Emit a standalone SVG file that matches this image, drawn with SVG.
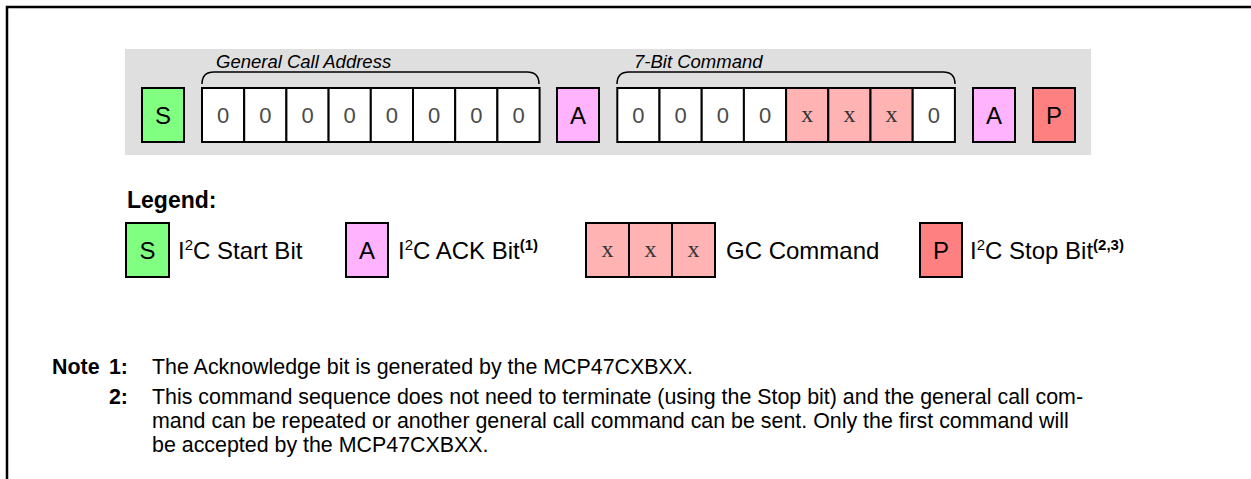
<svg xmlns="http://www.w3.org/2000/svg" width="1251" height="479" viewBox="0 0 1251 479">
<style>
.box{stroke:#000;stroke-width:2}
.s{fill:#80FF80}.a{fill:#FFB3FF}.p{fill:#FF8080}.x{fill:#FFB3B3}.w{fill:#fff}
.lt{font-family:"Liberation Sans",Arial,sans-serif;font-size:24px;fill:#000}
.lg{font-family:"Liberation Sans",Arial,sans-serif;font-size:23px;font-weight:bold;fill:#000}
.bt{font-family:"Liberation Sans",Arial,sans-serif;font-size:24px;fill:#000;text-anchor:middle}
.z{font-family:"Liberation Sans",Arial,sans-serif;font-size:22px;fill:#4a4a4a;text-anchor:middle}
.xx{font-family:"Liberation Serif","Times New Roman",serif;font-size:24px;fill:#333;text-anchor:middle}
.it{font-family:"Liberation Sans",Arial,sans-serif;font-size:18.5px;font-style:italic;fill:#000}
.nt{font-family:"Liberation Sans",Arial,sans-serif;font-size:21.4px;fill:#000}
.nb{font-weight:bold}
.sup{font-size:15px}
.brace{fill:none;stroke:#000;stroke-width:1.5}
</style>
<g id="frame">
<path d="M7 479 V7 H1251" fill="none" stroke="#000" stroke-width="2.5"/>
<rect x="125" y="49" width="966" height="106" fill="#DFDFDF"/>
</g>
<g id="connectors">
<path class="brace" d="M202 84 Q202 72 214 72 H527 Q539 72 539 84"/>
<path class="brace" d="M617 84 Q617 72 629 72 H943 Q955 72 955 84"/>
</g>
<g id="labels">
<text class="it" x="216" y="68">General Call Address</text>
<text class="it" x="634" y="68">7-Bit Command</text>
</g>
<g id="start">
<rect class="box s" x="142" y="88" width="42" height="54"/>
<text class="bt" x="163" y="123.5">S</text>
</g>
<g id="address">
<rect class="box w" x="202" y="88" width="42.2" height="54"/>
<rect class="box w" x="244.2" y="88" width="42.2" height="54"/>
<rect class="box w" x="286.4" y="88" width="42.2" height="54"/>
<rect class="box w" x="328.6" y="88" width="42.2" height="54"/>
<rect class="box w" x="370.8" y="88" width="42.2" height="54"/>
<rect class="box w" x="413" y="88" width="42.2" height="54"/>
<rect class="box w" x="455.2" y="88" width="42.2" height="54"/>
<rect class="box w" x="497.4" y="88" width="42.2" height="54"/>
<text class="z" x="223.1" y="123">0</text>
<text class="z" x="265.3" y="123">0</text>
<text class="z" x="307.5" y="123">0</text>
<text class="z" x="349.7" y="123">0</text>
<text class="z" x="391.9" y="123">0</text>
<text class="z" x="434.1" y="123">0</text>
<text class="z" x="476.3" y="123">0</text>
<text class="z" x="518.5" y="123">0</text>
</g>
<g id="ack1">
<rect class="box a" x="557" y="88" width="42" height="54"/>
<text class="bt" x="578" y="123.5">A</text>
</g>
<g id="command">
<rect class="box w" x="617.3" y="88" width="42.2" height="54"/>
<rect class="box w" x="659.5" y="88" width="42.2" height="54"/>
<rect class="box w" x="701.7" y="88" width="42.2" height="54"/>
<rect class="box w" x="743.9" y="88" width="42.2" height="54"/>
<rect class="box x" x="786.1" y="88" width="42.2" height="54"/>
<rect class="box x" x="828.3" y="88" width="42.2" height="54"/>
<rect class="box x" x="870.5" y="88" width="42.2" height="54"/>
<rect class="box w" x="912.7" y="88" width="42.2" height="54"/>
<text class="z" x="638.4" y="123">0</text>
<text class="z" x="680.6" y="123">0</text>
<text class="z" x="722.8" y="123">0</text>
<text class="z" x="765" y="123">0</text>
<text class="xx" x="807.2" y="122">x</text>
<text class="xx" x="849.4" y="122">x</text>
<text class="xx" x="891.6" y="122">x</text>
<text class="z" x="933.8" y="123">0</text>
</g>
<g id="ack2">
<rect class="box a" x="973" y="88" width="42" height="54"/>
<text class="bt" x="994" y="123.5">A</text>
</g>
<g id="stop">
<rect class="box p" x="1033" y="88" width="42" height="54"/>
<text class="bt" x="1054" y="123.5">P</text>
</g>
<g id="legend">
<text class="lg" x="127" y="208">Legend:</text>
<rect class="box s" x="126" y="223" width="43" height="54"/>
<text class="bt" x="147.5" y="258.5">S</text>
<text class="lt" x="178" y="259">I<tspan class="sup" dy="-9">2</tspan><tspan dy="9">C Start Bit</tspan></text>
<rect class="box a" x="346" y="223" width="42" height="54"/>
<text class="bt" x="367" y="258.5">A</text>
<text class="lt" x="398" y="259">I<tspan class="sup" dy="-9">2</tspan><tspan dy="9">C ACK Bit</tspan><tspan class="sup nb" dy="-9">(1)</tspan></text>
<rect class="box x" x="586" y="223" width="43" height="54"/>
<rect class="box x" x="629" y="223" width="43" height="54"/>
<rect class="box x" x="672" y="223" width="43" height="54"/>
<text class="xx" x="607.5" y="257">x</text>
<text class="xx" x="650.5" y="257">x</text>
<text class="xx" x="693.5" y="257">x</text>
<text class="lt" x="726" y="259">GC Command</text>
<rect class="box p" x="920" y="223" width="42" height="54"/>
<text class="bt" x="941" y="258.5">P</text>
<text class="lt" x="970" y="259">I<tspan class="sup" dy="-9">2</tspan><tspan dy="9">C Stop Bit</tspan><tspan class="sup nb" dy="-9">(2,3)</tspan></text>
</g>
<g id="notes">
<text class="nt nb" x="52" y="374">Note</text>
<text class="nt nb" x="128" y="374" text-anchor="end">1:</text>
<text class="nt" x="152" y="374">The Acknowledge bit is generated by the MCP47CXBXX.</text>
<text class="nt nb" x="128" y="404" text-anchor="end">2:</text>
<text class="nt" x="152" y="404">This command sequence does not need to terminate (using the Stop bit) and the general call com-</text>
<text class="nt" x="152" y="428">mand can be repeated or another general call command can be sent. Only the first command will</text>
<text class="nt" x="152" y="452">be accepted by the MCP47CXBXX.</text>
</g>
</svg>
